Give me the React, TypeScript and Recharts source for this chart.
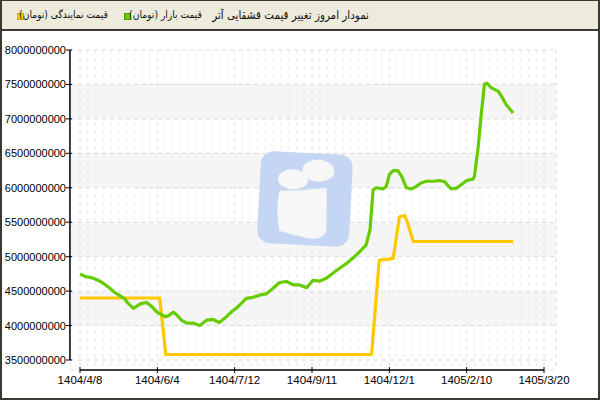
import React from 'react';
import { LineChart, Line, XAxis, YAxis, CartesianGrid, ReferenceLine, Customized } from 'recharts';

// ---- axis ticks ----
const xTicks = [0, 1, 2, 3, 4, 5, 6];
const xTickLabels = ['1404/4/8', '1404/6/4', '1404/7/12', '1404/9/11', '1404/12/1', '1405/2/10', '1405/3/20'];
const xMinorTicks = Array.from({ length: 61 }, (_, i) => i / 10);
const yTicks = [3500000000, 4000000000, 4500000000, 5000000000, 5500000000, 6000000000, 6500000000, 7000000000, 7500000000, 8000000000];
const yMinorTicks = [3750000000, 4250000000, 4750000000, 5250000000, 5750000000, 6250000000, 6750000000, 7250000000, 7750000000];
const X_DOMAIN: [number, number] = [0, 6];
const Y_DOMAIN: [number, number] = [3500000000, 8000000000];

// ---- series: قیمت بازار (تومان) ----
const marketPos = [
  0.0, 0.07, 0.15, 0.22, 0.3, 0.37, 0.45, 0.52, 0.58, 0.62, 0.69, 0.78, 0.86, 0.93, 0.99, 1.06, 1.1, 1.14, 1.21, 1.25,
  1.31, 1.38, 1.47, 1.55, 1.64, 1.72, 1.8, 1.87, 1.96, 2.02, 2.09, 2.15, 2.24, 2.33, 2.41, 2.5, 2.58, 2.67, 2.76, 2.84,
  2.93, 3.01, 3.1, 3.19, 3.27, 3.36, 3.45, 3.53, 3.62, 3.7, 3.75, 3.79, 3.83, 3.92, 3.96, 4.0, 4.05, 4.11, 4.16, 4.22,
  4.29, 4.35, 4.41, 4.48, 4.57, 4.65, 4.72, 4.76, 4.8, 4.87, 4.93, 5.0, 5.08, 5.1, 5.15, 5.19, 5.23, 5.26, 5.32, 5.41,
  5.45, 5.51, 5.6,
];
const marketPriceM = [
  4750, 4710, 4695, 4665, 4615, 4555, 4480, 4430, 4385, 4325, 4250, 4315, 4335, 4275, 4200, 4155, 4130, 4140, 4195, 4155,
  4080, 4035, 4035, 4000, 4080, 4090, 4045, 4105, 4200, 4250, 4325, 4395, 4410, 4445, 4460, 4545, 4625, 4640, 4590, 4590,
  4550, 4655, 4645, 4690, 4760, 4835, 4905, 4980, 5075, 5170, 5390, 5970, 6000, 5985, 6020, 6190, 6250, 6250, 6165, 6000,
  5985, 6020, 6070, 6095, 6095, 6105, 6085, 6030, 5985, 5995, 6045, 6105, 6125, 6165, 6600, 7085, 7500, 7520, 7450, 7400,
  7330, 7210, 7085,
];

// ---- series: قیمت نمایندگی (تومان) ----
const agentPos = [0.0, 1.03, 1.11, 3.77, 3.87, 3.96, 4.05, 4.13, 4.2, 4.23, 4.31, 5.6];
const agentPriceM = [4400, 4400, 3580, 3580, 4950, 4960, 4975, 5580, 5595, 5510, 5220, 5220];

const marketData = marketPos.map((x, i) => ({ x, v: marketPriceM[i] * 1000000 }));
const agentData = agentPos.map((x, i) => ({ x, v: agentPriceM[i] * 1000000 }));

const AXIS_X_POS = -0.13; // where the detached y-axis line sits (in x units)
const AXIS_Y_POS = 3355000000; // where the detached x-axis line sits (in y units)

const bandFill = ['#ffffff', '#f6f6f6', '#ffffff', '#f6f6f6', '#ffffff', '#f6f6f6', '#ffffff', '#f6f6f6', '#ffffff', '#ffffff'];
const FONT = '"Liberation Sans", Arial, sans-serif';
const HEAD_FONT = '"DejaVu Sans Condensed", "DejaVu Sans", sans-serif';

const YTickMain = (props: any) => {
  const { x, y, payload } = props;
  return (
    <g>
      <line x1={x - 4} x2={x + 2} y1={y} y2={y} stroke="#000" strokeWidth={1} />
      <text x={x - 4} y={y} dy={4} textAnchor="end" fontSize={11} fontFamily={FONT} fill="#000">
        {String(payload.value)}
      </text>
    </g>
  );
};

const YTickMinor = (props: any) => {
  const { x, y } = props;
  return <line x1={x - 3} x2={x} y1={y} y2={y} stroke="#e00000" strokeWidth={1} />;
};

const XTickMain = (props: any) => {
  const { x, y, payload } = props;
  const idx = xTicks.indexOf(payload.value);
  return (
    <g>
      <line x1={x} x2={x} y1={y - 3} y2={y + 3} stroke="#000" strokeWidth={1} />
      <text x={x} y={y + 14} textAnchor="middle" fontSize={11.5} fontFamily={FONT} fill="#000">
        {xTickLabels[idx]}
      </text>
    </g>
  );
};

const XTickMinor = (props: any) => {
  const { x, y } = props;
  return <line x1={x} x2={x} y1={y - 2} y2={y} stroke="#666" strokeWidth={1} />;
};

const Watermark = () => (
  <g transform="rotate(3 305 199)">
    <rect x={259} y={153} width={92} height={92} rx={13} fill="#c4d6f4" />
    <ellipse cx={292} cy={180} rx={15} ry={10} fill="#f7f7f7" />
    <ellipse cx={317} cy={170} rx={16} ry={11} fill="#f7f7f7" />
    <path d="M279 192 Q300 191 326 187 L328 228 Q326 240 310 238 Q296 236 281 232 Q276 212 279 192 Z" fill="#f7f7f7" />
  </g>
);

export default function App() {
  return (
    <div style={{ position: 'absolute', left: 0, top: 0, width: 600, height: 400, background: '#fff', overflow: 'hidden' }}>
      <div style={{ position: 'absolute', left: 0, top: 0 }}>
        <LineChart width={600} height={400} margin={{ top: 50, right: 44, bottom: 0, left: 0 }}>
          <CartesianGrid xAxisId="main" yAxisId="main" stroke="#dadada" strokeDasharray="4 4" horizontalFill={bandFill} />
          <CartesianGrid xAxisId="minor" yAxisId="main" horizontal={false} stroke="#ececec" strokeDasharray="4 4" />
          <XAxis
            xAxisId="minor"
            type="number"
            dataKey="x"
            domain={X_DOMAIN}
            allowDataOverflow
            ticks={xMinorTicks}
            interval={0}
            height={0}
            padding={{ left: 10, right: 12 }}
            axisLine={false}
            tickLine={false}
            tickSize={0}
            tickMargin={0}
            tick={<XTickMinor />}
          />
          <XAxis
            xAxisId="main"
            type="number"
            dataKey="x"
            domain={X_DOMAIN}
            allowDataOverflow
            ticks={xTicks}
            interval={0}
            height={30}
            padding={{ left: 10, right: 12 }}
            axisLine={false}
            tickLine={false}
            tickSize={0}
            tickMargin={0}
            tick={<XTickMain />}
          />
          <YAxis
            yAxisId="minor"
            type="number"
            domain={Y_DOMAIN}
            allowDataOverflow
            ticks={yMinorTicks}
            interval={0}
            width={0}
            padding={{ top: 0, bottom: 10 }}
            axisLine={false}
            tickLine={false}
            tickSize={0}
            tickMargin={0}
            tick={<YTickMinor />}
          />
          <YAxis
            yAxisId="main"
            type="number"
            domain={Y_DOMAIN}
            allowDataOverflow
            ticks={yTicks}
            interval={0}
            width={70}
            padding={{ top: 0, bottom: 10 }}
            axisLine={false}
            tickLine={false}
            tickSize={0}
            tickMargin={0}
            tick={<YTickMain />}
          />
          <Customized component={Watermark} />
          <ReferenceLine
            xAxisId="main"
            yAxisId="main"
            ifOverflow="visible"
            stroke="#000"
            strokeWidth={1.5}
            segment={[{ x: AXIS_X_POS, y: Y_DOMAIN[0] }, { x: AXIS_X_POS, y: Y_DOMAIN[1] }]}
          />
          <ReferenceLine
            xAxisId="main"
            yAxisId="main"
            ifOverflow="visible"
            stroke="#000"
            strokeWidth={1.5}
            segment={[{ x: X_DOMAIN[0], y: AXIS_Y_POS }, { x: X_DOMAIN[1], y: AXIS_Y_POS }]}
          />
          <Line
            xAxisId="main"
            yAxisId="main"
            data={agentData}
            dataKey="v"
            type="linear"
            stroke="#ffc800"
            strokeWidth={3.2}
            dot={false}
            strokeLinejoin="round"
            isAnimationActive={false}
          />
          <Line
            xAxisId="main"
            yAxisId="main"
            data={marketData}
            dataKey="v"
            type="linear"
            stroke="#66cc00"
            strokeWidth={3.2}
            dot={false}
            strokeLinejoin="round"
            isAnimationActive={false}
          />
        </LineChart>
      </div>
      <div
        style={{
          position: 'absolute',
          left: 0,
          top: 0,
          width: 600,
          height: 31,
          background: '#ecebdc',
          borderBottom: '2px solid #3a3a32',
          boxSizing: 'border-box',
          fontFamily: HEAD_FONT,
          color: '#111',
        }}
      >
        <span style={{ position: 'absolute', right: 231, top: 8, fontSize: 11.5, direction: 'rtl', whiteSpace: 'nowrap' }}>
          نمودار امروز تغییر قیمت قشقایی آتر
        </span>
        <span style={{ position: 'absolute', left: 124, top: 13, width: 5, height: 5, background: '#66cc00', border: '0.5px solid #4a9a00' }} />
        <span style={{ position: 'absolute', right: 398, top: 9, fontSize: 10.2, direction: 'rtl', whiteSpace: 'nowrap' }}>
          قیمت بازار (تومان)
        </span>
        <span style={{ position: 'absolute', left: 17, top: 13, width: 5, height: 5, background: '#ffc800', border: '0.5px solid #d9a800' }} />
        <span style={{ position: 'absolute', right: 492, top: 9, fontSize: 10.2, direction: 'rtl', whiteSpace: 'nowrap' }}>
          قیمت نمایندگی (تومان)
        </span>
      </div>
      <div
        style={{
          position: 'absolute',
          left: 0,
          top: 0,
          width: 600,
          height: 400,
          boxSizing: 'border-box',
          borderTop: '1px solid #3a3a32',
          borderLeft: '2px solid #3a3a32',
          borderRight: '2px solid #3a3a32',
          borderBottom: '2px solid #3a3a32',
          pointerEvents: 'none',
        }}
      />
    </div>
  );
}
